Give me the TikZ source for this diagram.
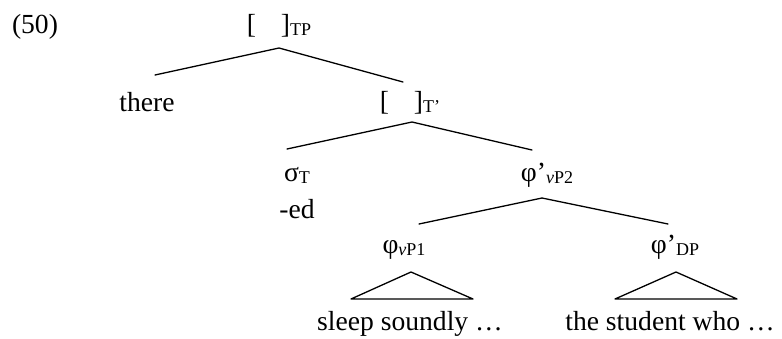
\documentclass[tikz,border=0pt]{standalone}
\usepackage{fontspec}
\setmainfont{Liberation Serif}
\usetikzlibrary{positioning}
\newcommand{\lsub}[1]{\raisebox{-1pt}{\fontsize{9}{10}\selectfont #1}}
\newcommand{\emptybr}{[\hspace{0.9em}]}
\tikzset{
    every picture/.style={line cap=round,line join=round},
    lbl/.style={inner sep=0pt,outer sep=0pt,anchor=base},
    branch/.style={draw=black,line width=0.65pt}
}

\begin{document}
\begin{tikzpicture}[x=0.5pt,y=-0.5pt,font={\fontsize{13.8}{16}\selectfont}]
  \useasboundingbox (0,0) rectangle (782,338);
  \node[lbl,anchor=base west] (ex) at (12,33) {(50)};
  % tree labels
  \node[lbl] (tp) at (279,33) {\emptybr\lsub{TP}};
  \node[lbl] (there) at (147,111) {there};
  \node[lbl] (tbar) at (410,110) {\emptybr\lsub{T’}};
  \node[lbl] (sigt) at (297,181) {σ\lsub{T}};
  \node[lbl] (ed) at (297,218) {-ed};
  \node[lbl] (vp2) at (547,181) {φ’\lsub{\textit{v}P2}};
  \node[lbl] (vp1) at (404,253) {φ\lsub{\textit{v}P1}};
  \node[lbl] (dp) at (675,253) {φ’\lsub{DP}};
  \node[lbl] (sleep) at (410,330) {sleep soundly …};
  \node[lbl] (student) at (670,330) {the student who …};
  % branches
  \draw[branch] ([xshift=4pt,yshift=18pt]there.base) -- ([yshift=-7.5pt]tp.base)
    -- ([xshift=-3.5pt,yshift=14pt]tbar.base);
  \draw[branch] ([xshift=-5pt,yshift=16pt]sigt.base) -- ([xshift=1pt,yshift=-6pt]tbar.base)
    -- ([xshift=-7.5pt,yshift=15.5pt]vp2.base);
  \draw[branch] ([xshift=7.5pt,yshift=14.5pt]vp1.base) -- ([xshift=-2.5pt,yshift=-8.5pt]vp2.base)
    -- ([xshift=-3.5pt,yshift=14.5pt]dp.base);
  % triangles
  \draw[branch] ([xshift=3.5pt,yshift=-9.5pt]vp1.base) -- ([xshift=-29.5pt,yshift=15.5pt]sleep.base)
    -- ([xshift=31.5pt,yshift=15.5pt]sleep.base) -- cycle;
  \draw[branch] ([xshift=0.5pt,yshift=-9.5pt]dp.base) -- ([xshift=-27.5pt,yshift=15.5pt]student.base)
    -- ([xshift=33.5pt,yshift=15.5pt]student.base) -- cycle;
\end{tikzpicture}
\end{document}
